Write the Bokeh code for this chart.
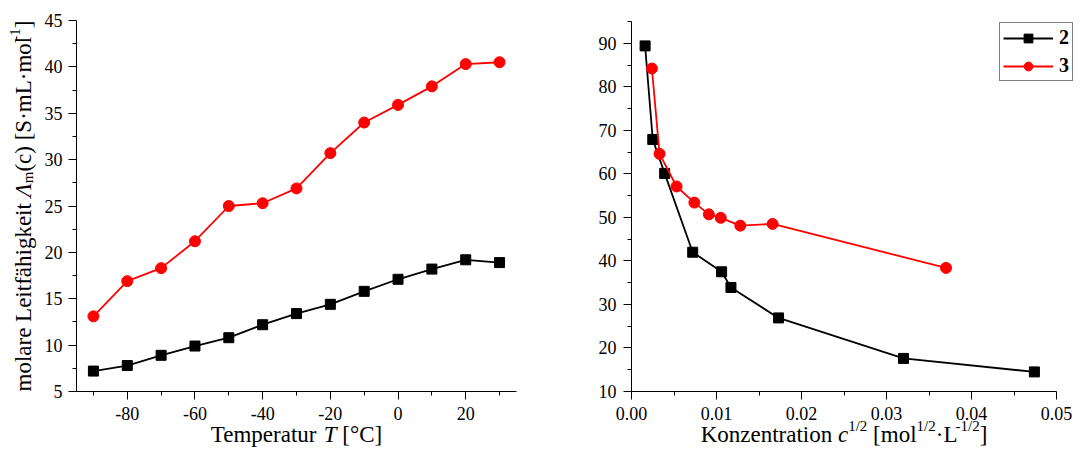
import math
from bokeh.plotting import figure
from bokeh.models import (Range1d, FixedTicker, PrintfTickFormatter, Label,
                          Legend, LegendItem)
from bokeh.layouts import row
from bokeh.embed import file_html
from bokeh.resources import INLINE

# ---------------- data ----------------
temperature = [-90, -80, -70, -60, -50, -40, -30, -20, -10, 0, 10, 20, 30]
cond_T_2 = [7.2, 7.8, 8.9, 9.9, 10.8, 12.2, 13.4, 14.4, 15.8, 17.1, 18.2, 19.2, 18.9]
cond_T_3 = [13.1, 16.9, 18.3, 21.2, 25.0, 25.3, 26.9, 30.7, 34.0, 35.9, 37.9, 40.3, 40.5]

sqrt_c_2 = [0.0016, 0.0025, 0.0039, 0.0072, 0.0106, 0.0117, 0.0173, 0.0320, 0.0474]
cond_c_2 = [89.4, 67.9, 60.1, 42.0, 37.5, 33.9, 26.9, 17.6, 14.5]
sqrt_c_3 = [0.0024, 0.0033, 0.0053, 0.0074, 0.0091, 0.0105, 0.0128, 0.0166, 0.0370]
cond_c_3 = [84.2, 64.6, 57.1, 53.4, 50.7, 49.9, 48.1, 48.5, 38.4]

series_names = ["2", "3"]

left_x_major = [-80, -60, -40, -20, 0, 20]
left_x_minor = [-90, -70, -50, -30, -10, 10, 30]
left_y_major = [5, 10, 15, 20, 25, 30, 35, 40, 45]
left_y_minor = [7.5, 12.5, 17.5, 22.5, 27.5, 32.5, 37.5, 42.5]
right_x_major = [0.0, 0.01, 0.02, 0.03, 0.04, 0.05]
right_x_minor = [0.005, 0.015, 0.025, 0.035, 0.045]
right_y_major = [10, 20, 30, 40, 50, 60, 70, 80, 90]
right_y_minor = [15, 25, 35, 45, 55, 65, 75, 85, 95]

# ---------------- text helpers ----------------
FONT = "Liberation Serif"
W_REG = {' ': 250, '(': 333, ')': 333, '[': 333, ']': 333, '·': 250, '°': 400,
         '-': 333, '/': 278, 'a': 444, 'b': 500, 'c': 444, 'd': 500, 'e': 444,
         'f': 333, 'g': 500, 'h': 500, 'i': 278, 'k': 500, 'l': 278, 'm': 778,
         'n': 500, 'o': 500, 'p': 500, 'r': 333, 's': 389, 't': 278, 'u': 500,
         'z': 444, 'ä': 444, 'C': 667, 'K': 722, 'L': 611, 'S': 556, 'T': 611,
         'Λ': 722}
W_IT = {'T': 556, 'c': 444, 'Λ': 611}
MAIN = 23
SMALL = 15
SHIFT = {"reg": 0, "it": 0, "sup": 9, "sub": -4}
BASE_FIX = 7  # renderer places the alphabetic baseline this far below the anchor


def tw(s, size, italic=False):
    tot = 0
    for ch in s:
        if italic and ch in W_IT:
            tot += W_IT[ch]
        else:
            tot += W_REG.get(ch, 500)
    return tot * size / 1000.0


def piece_props(kind):
    size = MAIN if kind in ("reg", "it") else SMALL
    style = "italic" if kind == "it" else "normal"
    return size, style


def lead_w(t, size):
    n = len(t) - len(t.lstrip(" "))
    return tw(" " * n, size)


def add_hlabel(p, pieces, ax, ay, base_off):
    widths = [tw(t, piece_props(k)[0], k == "it") for t, k in pieces]
    xo = -sum(widths) / 2
    for (t, k), w in zip(pieces, widths):
        size, style = piece_props(k)
        p.add_layout(Label(x=ax, y=ay, x_offset=xo + lead_w(t, size),
                           y_offset=base_off + BASE_FIX + SHIFT[k],
                           text=t.strip(" "), text_font=FONT, text_font_size=f"{size}px",
                           text_font_style=style, text_color="black",
                           text_align="left", text_baseline="alphabetic"))
        xo += w


def add_vlabel(p, pieces, ax, ay, base_off):
    widths = [tw(t, piece_props(k)[0], k == "it") for t, k in pieces]
    yo = -sum(widths) / 2
    for (t, k), w in zip(pieces, widths):
        size, style = piece_props(k)
        p.add_layout(Label(x=ax, y=ay, x_offset=base_off - BASE_FIX - SHIFT[k],
                           y_offset=yo + lead_w(t, size),
                           angle=math.pi / 2,
                           text=t.strip(" "), text_font=FONT, text_font_size=f"{size}px",
                           text_font_style=style, text_color="black",
                           text_align="left", text_baseline="alphabetic"))
        yo += w


def span(pa, va, pb, vb, plo, phi):
    k = (vb - va) / (pb - pa)
    return va + (plo - pa) * k, va + (phi - pa) * k


def style_axes(p, xloc, yloc, xb, yb):
    p.xaxis.fixed_location = xloc
    p.yaxis.fixed_location = yloc
    p.xaxis.bounds = xb
    p.yaxis.bounds = yb
    for ax in (p.xaxis[0], p.yaxis[0]):
        ax.axis_line_color = "black"
        ax.axis_line_width = 1
        ax.major_tick_line_color = "black"
        ax.minor_tick_line_color = "black"
        ax.major_tick_in = 0
        ax.major_tick_out = 8
        ax.minor_tick_in = 0
        ax.minor_tick_out = 4
        ax.major_label_text_font = FONT
        ax.major_label_text_font_size = "18px"
        ax.major_label_text_color = "black"
    p.xaxis.major_label_standoff = 7
    p.yaxis.major_label_standoff = 6
    p.xgrid.visible = False
    p.ygrid.visible = False
    p.outline_line_color = None


H = 447
# canvas page coordinates: (1,1) .. ; p1 x 1..568, p2 x 568..1074, y 1..448
# ---------------- left plot ----------------
W1 = 567
x1 = span(77, -95, 517, 35, 1, 1 + W1)
y1 = span(392, 5, 21, 45, 1 + H, 1)
p1 = figure(width=W1, height=H, output_backend="svg", toolbar_location=None,
            x_range=Range1d(*x1), y_range=Range1d(*y1),
            min_border=0, min_border_left=0, min_border_right=0,
            min_border_top=0, min_border_bottom=0)
p1.xaxis.ticker = FixedTicker(ticks=left_x_major, minor_ticks=left_x_minor)
p1.yaxis.ticker = FixedTicker(ticks=left_y_major, minor_ticks=left_y_minor)
p1.xaxis.formatter = PrintfTickFormatter(format="%d")
p1.yaxis.formatter = PrintfTickFormatter(format="%d")
style_axes(p1, 5, -95, (-95, 35), (5, 45))

p1.line(temperature, cond_T_2, line_color="black", line_width=1.8)
p1.scatter(temperature, cond_T_2, marker="square", size=10, fill_color="black", line_color="black")
p1.line(temperature, cond_T_3, line_color="#ff0000", line_width=1.8)
p1.scatter(temperature, cond_T_3, marker="circle", size=11, fill_color="#ff0000", line_color="#ff0000")

add_hlabel(p1, [("Temperatur ", "reg"), ("T", "it"), (" [°C]", "reg")], -30, 5, -50)
add_vlabel(p1, [("molare Leitfähigkeit ", "reg"), ("Λ", "it"), ("m", "sub"),
                ("(c) [S·mL·mol", "reg"), ("-1", "sup"), ("]", "reg")], -95, 25, -46)

# ---------------- right plot ----------------
W2 = 506
x2 = span(632, 0.0, 1057, 0.05, 1 + W1, 1 + W1 + W2)
y2 = span(392, 10, 22, 95, 1 + H, 1)
p2 = figure(width=W2, height=H, output_backend="svg", toolbar_location=None,
            x_range=Range1d(*x2), y_range=Range1d(*y2),
            min_border=0, min_border_left=0, min_border_right=0,
            min_border_top=0, min_border_bottom=0)
p2.xaxis.ticker = FixedTicker(ticks=right_x_major, minor_ticks=right_x_minor)
p2.yaxis.ticker = FixedTicker(ticks=right_y_major, minor_ticks=right_y_minor)
p2.xaxis.formatter = PrintfTickFormatter(format="%.2f")
p2.yaxis.formatter = PrintfTickFormatter(format="%d")
style_axes(p2, 10, 0.0, (0.0, 0.05), (10, 95))
p2.yaxis.major_label_standoff = 7

l2 = p2.line(sqrt_c_2, cond_c_2, line_color="black", line_width=1.8)
s2 = p2.scatter(sqrt_c_2, cond_c_2, marker="square", size=10, fill_color="black", line_color="black")
l3 = p2.line(sqrt_c_3, cond_c_3, line_color="#ff0000", line_width=1.8)
s3 = p2.scatter(sqrt_c_3, cond_c_3, marker="circle", size=11, fill_color="#ff0000", line_color="#ff0000")

add_hlabel(p2, [("Konzentration ", "reg"), ("c", "it"), ("1/2", "sup"), (" [mol", "reg"),
                ("1/2", "sup"), ("·L", "reg"), ("-1/2", "sup"), ("]", "reg")], 0.025, 10, -50)

legend = Legend(items=[LegendItem(label=series_names[0], renderers=[l2, s2]),
                       LegendItem(label=series_names[1], renderers=[l3, s3])],
                location=(432, 366), margin=0, padding=3, spacing=5,
                glyph_width=50, glyph_height=22, label_width=10, label_height=20,
                label_standoff=6, label_text_font=FONT, label_text_font_style="bold",
                label_text_font_size="20px", label_text_color="black",
                border_line_color="black", border_line_width=1,
                background_fill_color="white", background_fill_alpha=1)
p2.add_layout(legend)

layout = row(p1, p2)
open("out.html", "w").write(file_html(layout, INLINE))
